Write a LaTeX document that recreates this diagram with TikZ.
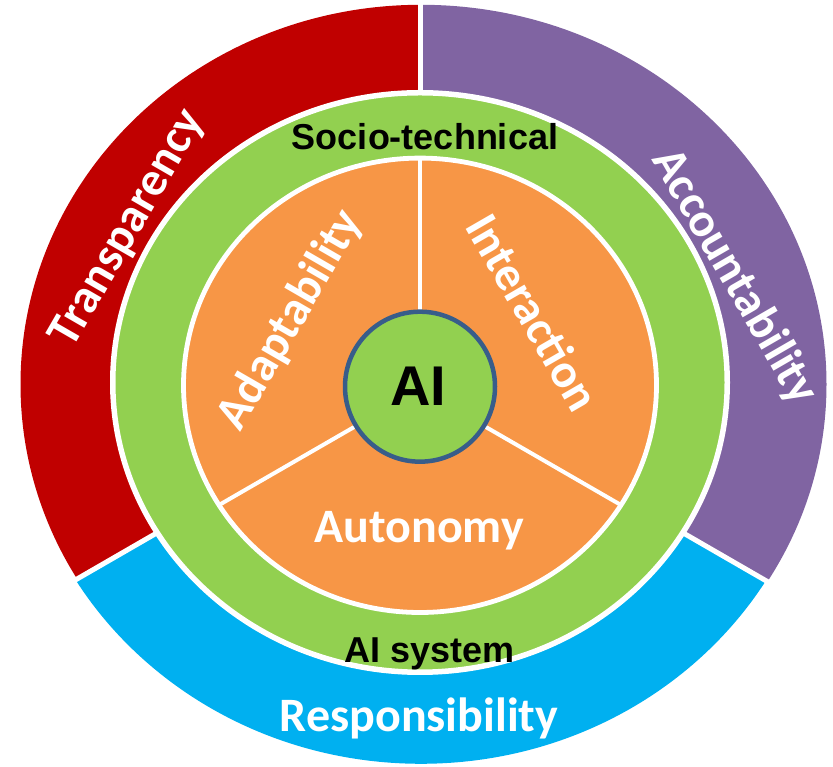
\documentclass[tikz,border=0pt]{standalone}
\usepackage{fontspec}
\newfontfamily\calfont{Carlito}
\newfontfamily\arialfont{Liberation Sans}
\definecolor{tred}{HTML}{C00000}
\definecolor{tpurple}{HTML}{8064A2}
\definecolor{tblue}{HTML}{00B0F0}
\definecolor{tgreen}{HTML}{92D050}
\definecolor{torange}{HTML}{F79646}
\definecolor{tnavy}{HTML}{385D8A}
\begin{document}
\begin{tikzpicture}[x=1pt,y=1pt,
  sidelab/.style={text=white, inner sep=0pt, text height=30pt, text depth=0pt,
    font=\calfont\bfseries\fontsize{48}{52}\selectfont},
  flatlab/.style={text=white, inner sep=0pt,
    font=\calfont\bfseries\fontsize{48}{52}\selectfont},
  blacklab/.style={text=black, inner sep=0pt,
    font=\arialfont\bfseries\fontsize{36}{40}\selectfont},
  ailab/.style={text=black, inner sep=0pt,
    font=\arialfont\bfseries\fontsize{56}{60}\selectfont},
  sepline/.style={white, line width=5pt},
  innersep/.style={white, line width=4pt}]
\useasboundingbox (0,0) rectangle (833,767);
% outer ring segments
\begin{scope}
  \clip (420,386) -- (420,800) -- (-10,800) -- (-10,138) -- cycle;
  \fill[tred] (421,382.7) ellipse [x radius=400.5pt, y radius=379.5pt];
\end{scope}
\begin{scope}
  \clip (420,386) -- (420,800) -- (850,800) -- (850,138) -- cycle;
  \fill[tpurple] (421,382.7) ellipse [x radius=405.5pt, y radius=379.5pt];
\end{scope}
\begin{scope}
  \clip (420,386) -- (-10,138) -- (-10,-10) -- (850,-10) -- (850,138) -- cycle;
  \fill[tblue] (421,382.7) ellipse [x radius=403pt, y radius=379.5pt];
\end{scope}
\draw[sepline] (420,386) -- (420,790);
\draw[sepline] (420,386) -- ++(210:520pt);
\draw[sepline] (420,386) -- ++(330:520pt);
% green ring
\filldraw[fill=tgreen, draw=white, line width=5.5pt] (420,384.5) ellipse [x radius=307.25pt, y radius=289.75pt];
% orange disc
\fill[torange] (420,381.7) ellipse [x radius=236.5pt, y radius=227.2pt];
\begin{scope}
  \clip (420,381.7) ellipse [x radius=236.5pt, y radius=227.2pt];
  \draw[innersep] (420,378) -- ++(90:300pt);
  \draw[innersep] (420,378) -- ++(210:300pt);
  \draw[innersep] (420,378) -- ++(330:300pt);
\end{scope}
\draw[white, line width=4.8pt] (420,381.7) ellipse [x radius=236.5pt, y radius=227.2pt];
% AI circle
\filldraw[fill=tgreen, draw=tnavy, line width=4.5pt] (420,380.3) circle [radius=75pt];
% labels
\node[sidelab, rotate=60] (transp) at (126,540) {Transparency};
\node[sidelab, rotate=-60] (acc) at (736,491) {Accountability};
\node[sidelab, rotate=60] (adapt) at (289,448) {Adaptability};
\node[sidelab, rotate=-60] (inter) at (532,454) {Interaction};
\node[flatlab, anchor=base] (auto) at (419,224) {Autonomy};
\node[flatlab, anchor=base] (resp) at (419,35) {Responsibility};
\node[blacklab, anchor=base] (socio) at (425,617) {Socio-technical};
\node[blacklab, anchor=base] (aisys) at (430,104) {AI system};
\node[ailab, anchor=base] (ai) at (418,361) {AI};
\end{tikzpicture}
\end{document}
